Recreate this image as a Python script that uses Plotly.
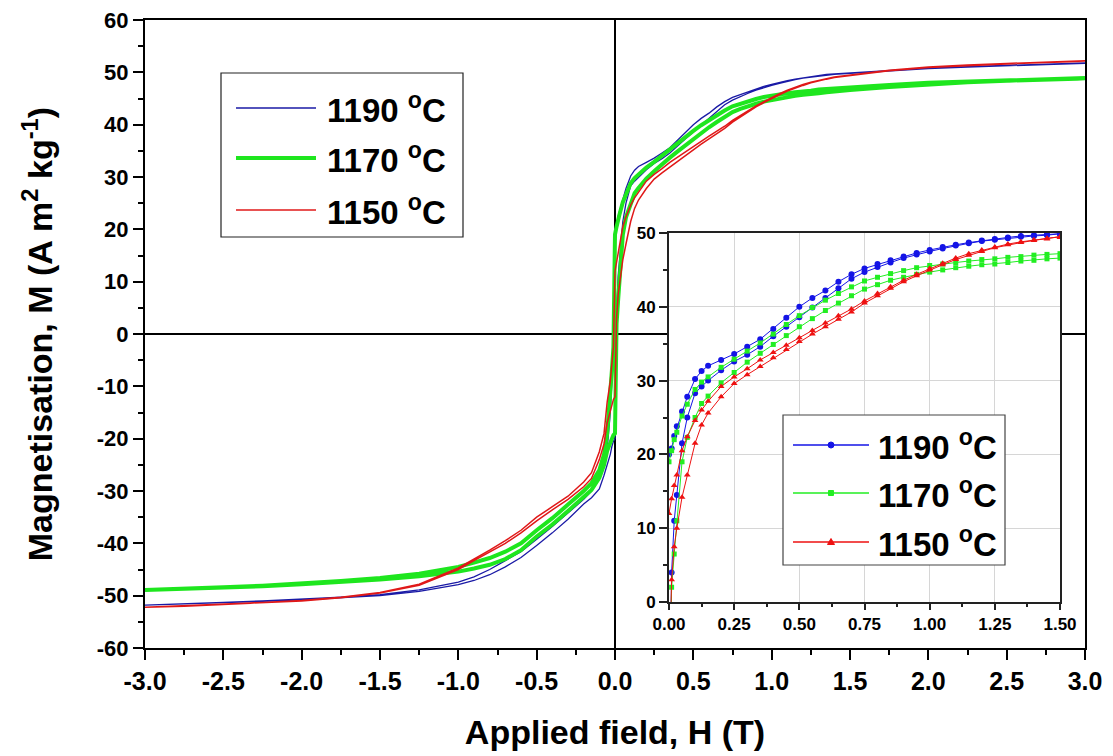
import plotly.graph_objects as go

# ---------------- data ----------------
H_pos = [0.00, 0.01, 0.02, 0.03, 0.05, 0.07, 0.10, 0.125, 0.15, 0.20, 0.25, 0.30, 0.35, 0.40, 0.45,
         0.50, 0.55, 0.60, 0.65, 0.70, 0.75, 0.80, 0.85, 0.90, 0.95, 1.00, 1.05, 1.10, 1.15, 1.20,
         1.25, 1.30, 1.35, 1.40, 1.45, 1.50, 1.75, 2.00, 2.25, 2.50, 2.75, 3.00]
H_neg = [-3.00, -2.75, -2.50, -2.25, -2.00, -1.75, -1.50, -1.25, -1.00, -0.90, -0.80, -0.70,
         -0.60, -0.50, -0.40, -0.30, -0.20, -0.15, -0.10, -0.07, -0.05, -0.03, -0.02, -0.01]

# 1190 C
M1190_up_pos = [20.0, 20.8, 22.5, 23.8, 25.8, 27.8, 30.2, 31.3, 32.0, 32.8, 33.6, 34.6, 35.6, 37.0, 38.5,
                40.0, 41.2, 42.2, 43.4, 44.4, 45.2, 45.8, 46.3, 46.8, 47.3, 47.7, 48.1, 48.4, 48.7, 49.0,
                49.2, 49.4, 49.6, 49.7, 49.8, 49.9, 50.4, 50.8, 51.1, 51.4, 51.6, 51.8]
M1190_lo_pos = [-20.0, 4.0, 11.0, 14.5, 21.5, 25.0, 28.3, 29.2, 30.0, 31.4, 32.6, 33.5, 34.6, 36.0, 37.3,
                38.6, 39.9, 41.2, 42.5, 43.8, 44.7, 45.4, 46.0, 46.6, 47.1, 47.5, 47.9, 48.3, 48.6, 48.9,
                49.1, 49.3, 49.5, 49.6, 49.7, 49.8, 50.3, 50.7, 51.0, 51.3, 51.5, 51.7]
M1190_up_neg = [-51.7, -51.5, -51.3, -51.0, -50.7, -50.3, -49.8, -48.9, -47.4, -46.4, -45.0, -43.3,
                -41.6, -39.2, -36.8, -34.2, -31.6, -30.0, -27.5, -25.0, -22.0, -15.0, -10.0, -3.0]
M1190_lo_neg = [-51.8, -51.6, -51.4, -51.1, -50.8, -50.4, -50.0, -49.2, -47.9, -47.1, -46.0, -44.5,
                -42.7, -40.4, -38.0, -35.4, -32.5, -31.3, -29.6, -27.0, -25.0, -23.0, -21.5, -20.5]

# 1170 C
M1170_up_pos = [19.0, 20.5, 22.0, 23.0, 25.2, 26.8, 28.8, 29.8, 30.5, 31.8, 32.9, 34.0, 35.1, 36.3, 37.6,
                38.8, 39.9, 40.9, 41.8, 42.7, 43.5, 44.0, 44.5, 44.9, 45.3, 45.6, 45.8, 46.0, 46.2, 46.4,
                46.5, 46.7, 46.8, 47.0, 47.1, 47.2, 47.6, 48.0, 48.3, 48.5, 48.7, 48.9]
M1170_lo_pos = [-19.0, 2.0, 6.5, 11.0, 19.0, 22.3, 25.0, 26.9, 27.9, 29.7, 31.1, 32.5, 33.7, 34.9, 36.1,
                37.3, 38.4, 39.5, 40.5, 41.5, 42.4, 43.0, 43.6, 44.0, 44.4, 44.7, 45.0, 45.3, 45.5, 45.7,
                45.8, 46.0, 46.2, 46.3, 46.5, 46.6, 47.2, 47.7, 48.1, 48.4, 48.6, 48.8]
M1170_up_neg = [-48.8, -48.6, -48.4, -48.1, -47.7, -47.2, -46.6, -45.8, -44.5, -43.7, -42.8, -41.6,
                -40.0, -37.5, -35.2, -32.6, -30.0, -28.5, -26.0, -23.0, -19.0, -12.0, -7.0, -2.5]
M1170_lo_neg = [-48.9, -48.7, -48.5, -48.2, -47.8, -47.4, -46.9, -46.3, -45.4, -44.8, -44.1, -43.0,
                -41.3, -38.7, -36.4, -33.8, -31.0, -29.8, -27.5, -25.0, -22.3, -20.5, -19.8, -19.3]

# 1150 C
M1150_up_pos = [12.0, 14.0, 15.8, 17.2, 20.5, 22.4, 24.6, 26.0, 27.2, 29.2, 30.5, 31.6, 32.8, 33.8, 34.8,
                35.8, 36.8, 37.8, 38.8, 39.7, 40.8, 41.8, 42.7, 43.6, 44.4, 45.2, 45.9, 46.6, 47.2, 47.7,
                48.1, 48.5, 48.8, 49.1, 49.3, 49.5, 50.4, 51.0, 51.4, 51.7, 52.0, 52.2]
M1150_lo_pos = [-12.0, 3.0, 7.5, 10.0, 14.2, 17.2, 21.5, 24.0, 25.6, 27.8, 29.6, 30.8, 31.9, 33.1, 34.2,
                35.3, 36.3, 37.3, 38.3, 39.3, 40.5, 41.5, 42.5, 43.4, 44.2, 45.0, 45.7, 46.4, 47.0, 47.5,
                48.0, 48.4, 48.7, 49.0, 49.2, 49.4, 50.3, 50.9, 51.3, 51.6, 51.9, 52.1]
M1150_up_neg = [-52.1, -51.9, -51.6, -51.3, -50.9, -50.3, -49.4, -47.8, -44.7, -43.0, -41.3, -39.5,
                -37.5, -35.0, -33.0, -31.0, -28.3, -26.5, -22.5, -19.0, -13.0, -9.0, -6.0, -2.5]
M1150_lo_neg = [-52.2, -52.0, -51.7, -51.4, -51.0, -50.4, -49.5, -48.0, -45.0, -43.3, -41.7, -40.0,
                -38.0, -35.7, -33.6, -31.6, -29.2, -27.6, -24.0, -21.0, -17.0, -14.5, -13.3, -12.5]

temps = ["1190", "1170", "1150"]
main_x_ticks = [-3.0, -2.5, -2.0, -1.5, -1.0, -0.5, 0.0, 0.5, 1.0, 1.5, 2.0, 2.5, 3.0]
main_y_ticks = [-60, -50, -40, -30, -20, -10, 0, 10, 20, 30, 40, 50, 60]
inset_x_ticks = [0.00, 0.25, 0.50, 0.75, 1.00, 1.25, 1.50]
inset_y_ticks = [0, 10, 20, 30, 40, 50]
INSET_HMAX = 1.5

# ---------------- style ----------------
FONT = "Liberation Sans, Arial, sans-serif"
main_colors = ["#1a1aa6", "#1ee61e", "#e01818"]
main_widths = [1.3, 4.0, 1.5]
inset_colors = ["#1414e6", "#22ee22", "#ee1111"]
inset_symbols = ["circle", "square", "triangle-up"]
inset_sizes = [6, 5, 6]

PAGE_W, PAGE_H, BODY = 1113, 756, 8   # page body has an 8px margin
L, R, T, B = 145, 1085, 20, 648       # plot area in page pixels


def pxx(x):
    return (x - L) / (R - L)


def pxy(y):
    return (B - y) / (B - T)


series = [
    (M1190_up_pos, M1190_lo_pos, M1190_up_neg, M1190_lo_neg),
    (M1170_up_pos, M1170_lo_pos, M1170_up_neg, M1170_lo_neg),
    (M1150_up_pos, M1150_lo_pos, M1150_up_neg, M1150_lo_neg),
]

fig = go.Figure()

# main hysteresis loops
for i, (up_p, lo_p, up_n, lo_n) in enumerate(series):
    x = H_pos[::-1] + H_neg[::-1] + H_neg + H_pos
    y = up_p[::-1] + up_n[::-1] + lo_n + lo_p
    fig.add_trace(go.Scatter(
        x=x, y=y, mode="lines", name=temps[i] + " °C",
        line=dict(color=main_colors[i], width=main_widths[i]),
        showlegend=False, xaxis="x", yaxis="y", hoverinfo="skip"))

# inset (first quadrant, 0 - 1.5 T)
n_in = sum(1 for h in H_pos if h <= INSET_HMAX)
for i, (up_p, lo_p, up_n, lo_n) in enumerate(series):
    xi = H_pos[:n_in] + H_pos[:n_in][::-1]
    yi = lo_p[:n_in] + up_p[:n_in][::-1]
    fig.add_trace(go.Scatter(
        x=xi, y=yi, mode="lines+markers", name=temps[i] + " °C",
        line=dict(color=inset_colors[i], width=1),
        marker=dict(symbol=inset_symbols[i], size=inset_sizes[i], color=inset_colors[i]),
        showlegend=False, xaxis="x2", yaxis="y2", hoverinfo="skip"))

tick_font_x = dict(family=FONT, size=25, color="black", weight="bold")
tick_font_y = dict(family=FONT, size=22, color="black", weight="bold")
tick_font_inset = dict(family=FONT, size=17, color="black", weight="bold")

fig.update_layout(
    width=PAGE_W - BODY, height=PAGE_H - BODY,
    margin=dict(l=L - BODY, r=PAGE_W - R, t=T - BODY, b=PAGE_H - B, autoexpand=False),
    paper_bgcolor="white", plot_bgcolor="white",
    showlegend=False,
    font=dict(family=FONT, color="black"),
    xaxis=dict(
        domain=[0, 1], anchor="y", range=[-3, 3], automargin=False, ticklabeloverflow="allow",
        tickmode="array", tickvals=main_x_ticks, ticktext=[f"{v:.1f}" for v in main_x_ticks],
        ticks="outside", ticklen=10, tickwidth=2, tickcolor="black",
        minor=dict(dtick=0.25, tick0=-3, ticks="outside", ticklen=5, tickwidth=2, tickcolor="black"),
        showline=True, linewidth=2, linecolor="black", mirror=True,
        showgrid=False, zeroline=True, zerolinecolor="black", zerolinewidth=2,
        tickfont=tick_font_x,
        title=dict(text="Applied field, H (T)", standoff=26,
                   font=dict(family=FONT, size=34, color="black", weight="bold")),
    ),
    yaxis=dict(
        domain=[0, 1], anchor="x", range=[-60, 60], automargin=False, ticklabeloverflow="allow",
        tickmode="array", tickvals=main_y_ticks, ticktext=[str(v) for v in main_y_ticks],
        ticks="outside", ticklen=10, tickwidth=2, tickcolor="black",
        minor=dict(dtick=5, tick0=-60, ticks="outside", ticklen=5, tickwidth=2, tickcolor="black"),
        showline=True, linewidth=2, linecolor="black", mirror=True,
        showgrid=False, zeroline=True, zerolinecolor="black", zerolinewidth=2,
        tickfont=tick_font_y,
        title=dict(text="Magnetisation, M (A m<sup>2</sup> kg<sup>-1</sup>)", standoff=34,
                   font=dict(family=FONT, size=34, color="black", weight="bold")),
    ),
    xaxis3=dict(
        overlaying="x", side="top", anchor="y", range=[-3, 3], automargin=False,
        tickmode="array", tickvals=main_x_ticks, showticklabels=False,
        ticks="outside", ticklen=10, tickwidth=2, tickcolor="black",
        minor=dict(dtick=0.25, tick0=-3, ticks="outside", ticklen=5, tickwidth=2, tickcolor="black"),
        showline=False, showgrid=False, zeroline=False,
    ),
    xaxis2=dict(
        domain=[pxx(669), pxx(1060)], anchor="y2", range=[0, INSET_HMAX], automargin=False,
        tickmode="array", tickvals=inset_x_ticks, ticktext=[f"{v:.2f}" for v in inset_x_ticks],
        ticks="outside", ticklen=6, tickwidth=1.5, tickcolor="#222",
        minor=dict(dtick=0.125, tick0=0, ticks="outside", ticklen=3, tickwidth=1.5, tickcolor="#222"),
        showline=True, linewidth=2, linecolor="#222", mirror=True,
        showgrid=True, gridcolor="#d6d6d6", gridwidth=1, zeroline=False,
        tickfont=tick_font_inset,
    ),
    yaxis2=dict(
        domain=[pxy(602), pxy(233)], anchor="x2", range=[0, 50], automargin=False,
        tickmode="array", tickvals=inset_y_ticks, ticktext=[str(v) for v in inset_y_ticks],
        ticks="outside", ticklen=8, tickwidth=1.5, tickcolor="#222",
        minor=dict(dtick=5, tick0=0, ticks="outside", ticklen=4, tickwidth=1.5, tickcolor="#222"),
        showline=True, linewidth=2, linecolor="#222", mirror=True,
        showgrid=True, gridcolor="#d6d6d6", gridwidth=1, zeroline=False,
        tickfont=tick_font_inset,
    ),
    xaxis4=dict(
        overlaying="x2", side="top", anchor="y2", range=[0, INSET_HMAX], automargin=False,
        tickmode="array", tickvals=inset_x_ticks, showticklabels=False,
        ticks="inside", ticklen=6, tickwidth=1.5, tickcolor="#222",
        minor=dict(dtick=0.125, tick0=0, ticks="inside", ticklen=3, tickwidth=1.5, tickcolor="#222"),
        showline=False, showgrid=False, zeroline=False,
    ),
    yaxis4=dict(
        overlaying="y2", side="right", anchor="x2", range=[0, 50], automargin=False,
        tickmode="array", tickvals=inset_y_ticks, showticklabels=False,
        ticks="inside", ticklen=7, tickwidth=1.5, tickcolor="#222",
        minor=dict(dtick=5, tick0=0, ticks="inside", ticklen=4, tickwidth=1.5, tickcolor="#222"),
        showline=False, showgrid=False, zeroline=False,
    ),
)

shapes = []
# white background of the inset (hides the main curves behind it)
shapes.append(dict(type="rect", xref="x2 domain", yref="y2 domain", x0=0, x1=1, y0=0, y1=1,
                   fillcolor="white", line=dict(width=0), layer="below"))

annotations = []
LEG_FONT = dict(family=FONT, size=33, color="black", weight="bold")

# main legend (manual, Origin-style long line samples)
shapes.append(dict(type="rect", xref="paper", yref="paper",
                   x0=pxx(221), x1=pxx(463), y0=pxy(237), y1=pxy(73),
                   fillcolor="white", line=dict(color="#222", width=1.2), layer="above"))
main_rows = [108, 158, 210]
for i, yrow in enumerate(main_rows):
    shapes.append(dict(type="line", xref="paper", yref="paper",
                       x0=pxx(236), x1=pxx(316), y0=pxy(yrow), y1=pxy(yrow),
                       line=dict(color=main_colors[i], width=main_widths[i]), layer="above"))
    annotations.append(dict(xref="paper", yref="paper", x=pxx(325), y=pxy(yrow),
                            xanchor="left", yanchor="middle", showarrow=False,
                            text=f"{temps[i]} <sup>o</sup>C", font=LEG_FONT))

# inset legend
shapes.append(dict(type="rect", xref="paper", yref="paper",
                   x0=pxx(783), x1=pxx(1005), y0=pxy(565), y1=pxy(415),
                   fillcolor="white", line=dict(color="#444", width=1.2), layer="above"))
inset_rows = [445, 493, 542]
for i, yrow in enumerate(inset_rows):
    shapes.append(dict(type="line", xref="paper", yref="paper",
                       x0=pxx(793), x1=pxx(869), y0=pxy(yrow), y1=pxy(yrow),
                       line=dict(color=inset_colors[i], width=1.3), layer="above"))
    common = dict(xref="paper", yref="paper", xsizemode="pixel", ysizemode="pixel",
                  xanchor=pxx(831), yanchor=pxy(yrow), fillcolor=inset_colors[i],
                  line=dict(color=inset_colors[i], width=1), layer="above")
    if inset_symbols[i] == "circle":
        shapes.append(dict(type="circle", x0=-3, x1=3, y0=-3, y1=3, **common))
    elif inset_symbols[i] == "square":
        shapes.append(dict(type="rect", x0=-2.5, x1=2.5, y0=-2.5, y1=2.5, **common))
    else:
        shapes.append(dict(type="path", path="M-3.5,-2.5 L3.5,-2.5 L0,3.5 Z", **common))
    annotations.append(dict(xref="paper", yref="paper", x=pxx(876), y=pxy(yrow),
                            xanchor="left", yanchor="middle", showarrow=False,
                            text=f"{temps[i]} <sup>o</sup>C", font=LEG_FONT))

fig.update_layout(shapes=shapes, annotations=annotations)

fig.write_html("out.html")
